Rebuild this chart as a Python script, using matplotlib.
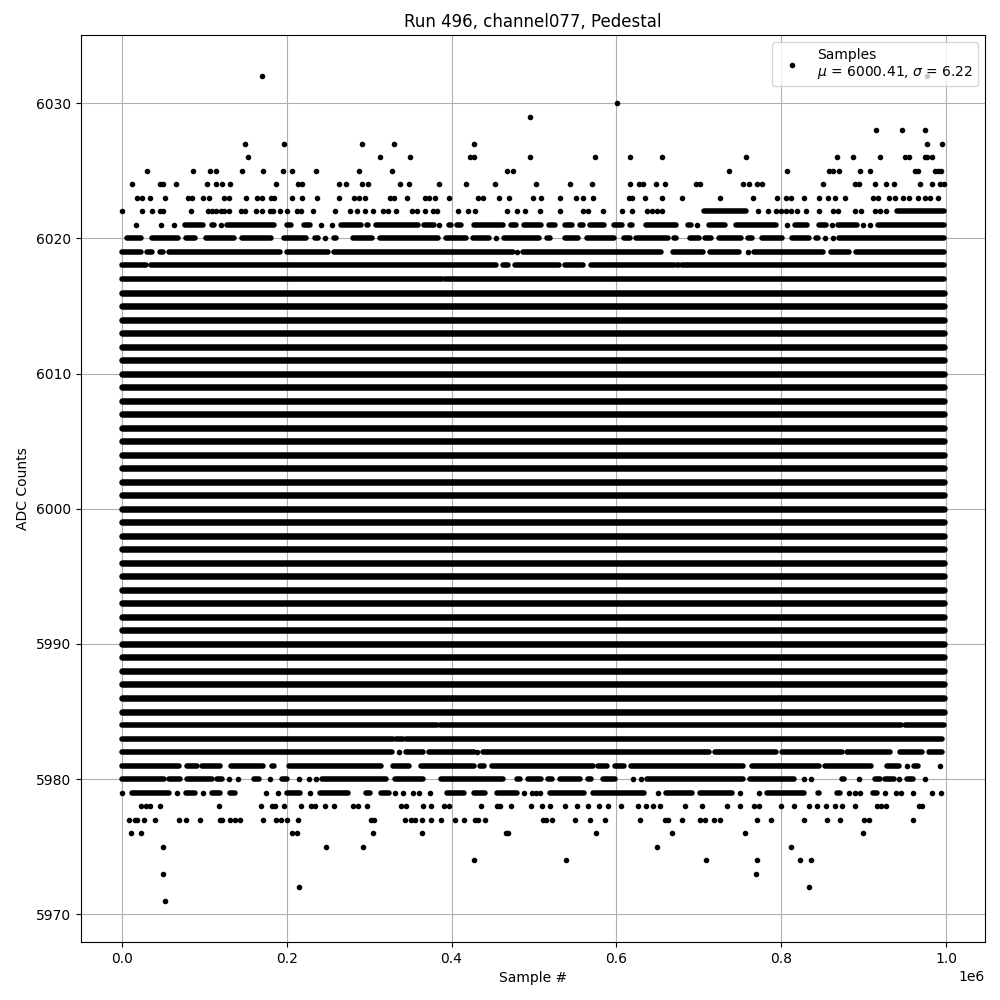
import matplotlib
matplotlib.use("Agg")
import matplotlib.pyplot as plt

# All x values are in thousands of samples
# Levels where the samples form an unbroken band
full_levels = [5985, 5986, 5987, 5988, 5989, 5990, 5991, 5992, 5993, 5994, 5995,
               5996, 5997, 5998, 5999, 6000, 6001, 6002, 6003, 6004, 6005, 6006,
               6007, 6008, 6009, 6010, 6011, 6012, 6013, 6014, 6015, 6016]
full_span = (0, 997)

# Isolated samples per level
points_6032 = [170, 976]
points_6030 = [601]
points_6029 = [495]
points_6028 = [915, 946, 974]
points_6027 = [150, 197, 292, 330, 427, 976, 995]
points_6026 = [153, 313, 350, 422, 427, 495, 574, 617, 655, 757, 867, 887, 919,
               950, 955, 974, 977, 983]
points_6025 = [31, 86, 107, 115, 146, 172, 196, 206, 236, 288, 328, 467, 475, 737,
               807, 858, 862, 870, 895, 907, 962, 966, 986, 990, 994]
points_6024 = [12, 46, 50, 66, 103, 115, 122, 132, 187, 214, 219, 263, 272, 292, 299,
               337, 349, 385, 417, 453, 503, 544, 570, 617, 627, 632, 648, 659, 696,
               701, 754, 761, 770, 776, 851, 889, 894, 913, 927, 936, 968, 982, 992, 997]
points_6023 = [19, 25, 34, 52, 80, 85, 99, 106, 124, 130, 151, 164, 170, 181, 185, 207,
               219, 237, 264, 282, 288, 295, 326, 330, 346, 368, 373, 380, 397, 432, 438,
               458, 470, 499, 508, 532, 551, 560, 572, 615, 619, 634, 655, 679, 726, 766,
               795, 805, 812, 827, 845, 857, 865, 877, 911, 917, 931, 938, 947, 955, 966,
               974, 980, 990]
points_6022 = [0, 25, 37, 46, 50, 84, 105, 109, 115, 120, 124, 130, 145, 150, 163, 170,
               180, 184, 192, 200, 213, 218, 232, 259, 277, 286, 295, 305, 317, 323, 333,
               352, 358, 368, 377, 383, 408, 420, 428, 467, 480, 489, 507, 532, 560, 565,
               584, 607, 619, 637, 643, 649, 655, 772, 784, 794, 799, 806, 812, 819, 830,
               845, 863, 869, 889, 897, 914, 920, 927]
points_6021 = [17, 48, 64, 120, 242, 255, 385, 698, 807, 861, 899, 907]
points_6020 = [247, 454, 853, 862]
points_6019 = [480, 759]
points_5980 = [130, 141, 180, 215, 227, 236, 620, 630, 827, 836, 894, 943, 974]
points_5981 = [952, 992]
points_5982 = [336, 431]
points_5979 = [1, 67, 99, 175, 190, 228, 332, 341, 353, 361, 374, 488, 498, 503, 507,
               650, 750, 773, 882, 889, 895, 926, 939, 945, 959, 982, 994]
points_5978 = [24, 30, 35, 46, 118, 169, 182, 186, 197, 217, 230, 234, 247, 257, 281,
               287, 297, 339, 345, 366, 375, 391, 397, 436, 455, 459, 472, 496, 510, 520,
               538, 552, 565, 579, 590, 605, 626, 636, 644, 653, 683, 704, 734, 750, 767,
               773, 799, 815, 834, 843, 854, 865, 873, 889, 916, 921, 927, 967, 970]
points_5977 = [9, 16, 19, 27, 40, 69, 78, 95, 119, 122, 131, 137, 143, 172, 187, 193,
               201, 214, 302, 306, 343, 351, 356, 364, 375, 387, 404, 415, 428, 432, 441,
               511, 515, 522, 550, 568, 586, 629, 659, 663, 679, 701, 707, 718, 725, 770,
               787, 827, 855, 871, 900, 906, 960]
points_5976 = [11, 24, 207, 213, 305, 364, 466, 468, 575, 667, 756, 899]
points_5975 = [50, 248, 293, 649, 812]
points_5974 = [427, 539, 708, 770, 822, 836]
points_5973 = [50, 769]
points_5972 = [215, 834]
points_5971 = [53]

# Runs of samples too close together to tell apart (first, last)
runs_6022 = [(706, 757), (940, 997)]
runs_6021 = [(77, 99), (109, 112), (128, 185), (200, 205), (221, 228), (266, 290),
             (298, 299), (308, 359), (367, 379), (397, 399), (407, 411), (427, 462),
             (472, 478), (488, 509), (518, 526), (537, 546), (556, 560), (568, 585),
             (597, 607), (616, 619), (636, 672), (687, 690), (712, 731), (745, 794),
             (817, 831), (845, 854), (869, 892), (917, 997)]
runs_6020 = [(7, 23), (37, 68), (78, 89), (102, 136), (146, 181), (197, 224), (235, 238),
             (258, 260), (280, 304), (313, 384), (393, 417), (426, 445),
             (464, 506), (516, 520), (538, 553), (564, 597), (609, 616),
             (624, 662), (670, 672), (689, 700), (707, 715), (724, 751), (759, 764),
             (777, 801), (813, 834), (842, 844), (870, 997)]
runs_6019 = [(0, 23), (31, 37), (46, 50), (57, 192), (200, 250), (258, 474), (487, 654),
             (669, 705), (714, 749), (767, 851), (860, 882), (890, 997)]
runs_6018 = [(0, 30), (36, 454), (462, 469), (477, 530), (538, 560), (569, 670),
             (674, 676), (680, 997)]
runs_6017 = [(0, 388), (392, 997)]
runs_5984 = [(0, 383), (386, 945), (950, 997)]
runs_5983 = [(0, 329), (333, 341), (345, 995)]
runs_5982 = [(0, 328), (345, 365), (373, 427), (438, 712), (720, 794), (801, 873),
             (880, 932), (944, 970), (979, 995)]
runs_5981 = [(0, 70), (79, 91), (98, 119), (133, 171), (182, 185), (194, 195), (203, 314),
             (329, 349), (363, 427), (434, 439), (449, 571), (578, 588), (598, 609),
             (618, 754), (764, 845), (853, 909), (928, 943), (961, 966)]
runs_5980 = [(0, 51), (57, 71), (79, 110), (116, 122), (160, 167), (195, 201), (243, 321),
             (332, 365), (387, 463), (480, 483), (493, 508), (517, 522), (531, 556),
             (565, 569), (584, 598), (637, 754), (762, 815), (874, 876), (913, 919),
             (926, 936), (952, 960)]
runs_5979 = [(13, 58), (78, 89), (110, 119), (131, 138), (201, 216), (241, 274), (296, 301),
             (314, 324), (394, 415), (427, 441), (455, 480), (519, 561), (571, 633),
             (660, 692), (701, 740), (782, 827), (844, 845), (868, 871), (911, 916)]

point_levels = [(6032, points_6032), (6030, points_6030), (6029, points_6029),
                (6028, points_6028), (6027, points_6027), (6026, points_6026),
                (6025, points_6025), (6024, points_6024), (6023, points_6023),
                (6022, points_6022), (6021, points_6021), (6020, points_6020),
                (6019, points_6019), (5982, points_5982), (5981, points_5981),
                (5980, points_5980), (5979, points_5979), (5978, points_5978),
                (5977, points_5977), (5976, points_5976), (5975, points_5975),
                (5974, points_5974), (5973, points_5973), (5972, points_5972),
                (5971, points_5971)]
run_levels = [(6022, runs_6022), (6021, runs_6021), (6020, runs_6020), (6019, runs_6019),
              (6018, runs_6018), (6017, runs_6017), (5984, runs_5984), (5983, runs_5983),
              (5982, runs_5982), (5981, runs_5981), (5980, runs_5980), (5979, runs_5979)]

mean_adc = 6000.41
sigma_adc = 6.22

fig, ax = plt.subplots(figsize=(10, 10), dpi=100)

# Isolated samples
xs = []
ys = []
for level, points in point_levels:
    for p in points:
        xs.append(p * 1000)
        ys.append(level)
ax.plot(xs, ys, 'k.', label=f"Samples\n$\\mu$ = {mean_adc:.2f}, $\\sigma$ = {sigma_adc:.2f}")

# Runs of samples, drawn as round capped strokes as wide as a dot
for level, runs in run_levels:
    for first, last in runs:
        ax.plot([first * 1000, last * 1000], [level, level], color='k', lw=4,
                solid_capstyle='round')
# The full bands look a bit thicker in the reference
for level in full_levels:
    ax.plot([full_span[0] * 1000, full_span[1] * 1000], [level, level], color='k', lw=4.7,
            solid_capstyle='round')

ax.set_title("Run 496, channel077, Pedestal")
ax.set_xlabel("Sample #")
ax.set_ylabel("ADC Counts")
ax.grid(True)
ax.legend(loc='upper right')
plt.subplots_adjust(left=0.0805, right=0.985, top=0.965, bottom=0.058)
plt.savefig("out.png")
